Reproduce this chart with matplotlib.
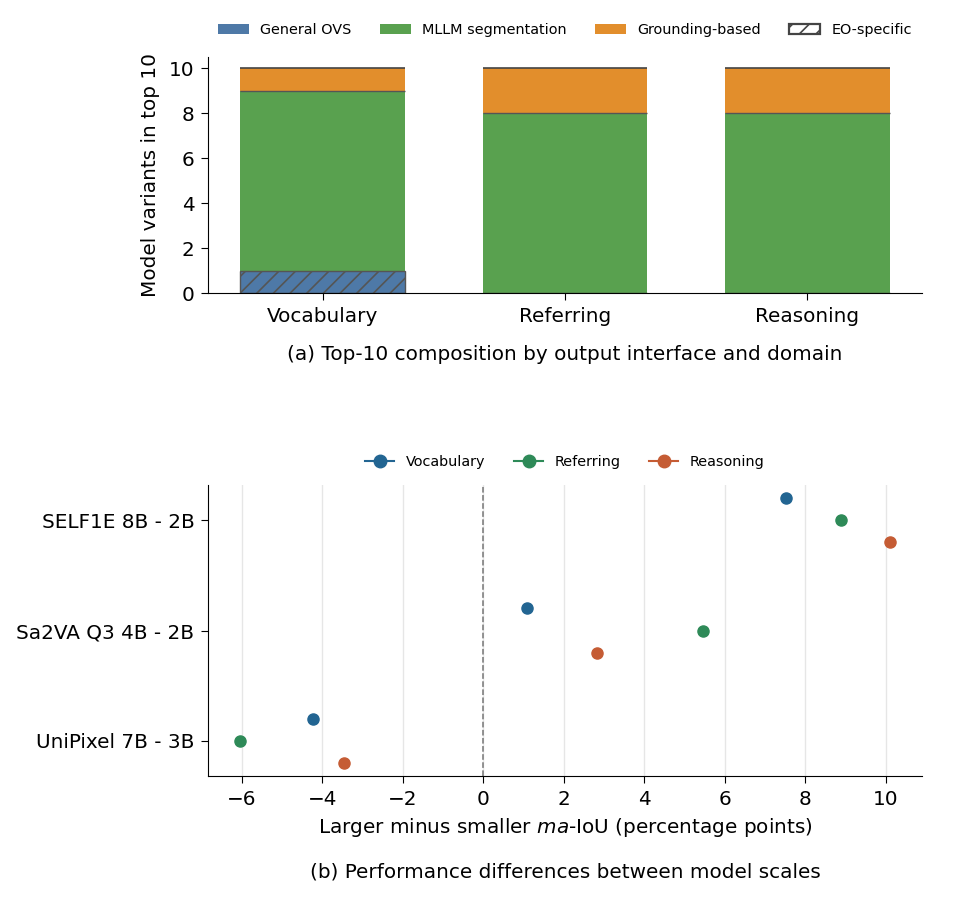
import matplotlib
matplotlib.use("Agg")
import matplotlib.pyplot as plt
import numpy as np
from matplotlib.patches import Patch
from matplotlib.lines import Line2D

# Panel (a) data
tasks = ["Vocabulary", "Referring", "Reasoning"]
general_ovs = [1, 0, 0]
mllm_seg = [8, 8, 8]
grounding = [1, 2, 2]
eo_specific_ovs = [1, 0, 0]

# Panel (b) data
pairs = ["SELF1E 8B - 2B", "Sa2VA Q3 4B - 2B", "UniPixel 7B - 3B"]
diff_vocab = [7.52, 1.09, -4.23]
diff_ref = [8.89, 5.47, -6.03]
diff_reas = [10.10, 2.84, -3.46]

c_ovs = "#4e79a7"
c_mllm = "#59a14f"
c_grd = "#e28e2c"
c_v = "#226592"
c_r = "#2e8a58"
c_s = "#c55c34"

FS = 14.4
LFS = 10.4

plt.rcParams['font.family'] = ['DejaVu Sans']
plt.rcParams['hatch.color'] = '#333333'
plt.rcParams['hatch.linewidth'] = 1.2
plt.rcParams['xtick.major.size'] = 5
plt.rcParams['ytick.major.size'] = 5
plt.rcParams['xtick.major.pad'] = 4.8
plt.rcParams['ytick.major.pad'] = 4.8

fig = plt.figure(figsize=(9.76, 9.01), dpi=100)
ax1 = fig.add_axes([0.2131, 0.6748, 0.7316, 0.2619])
ax2 = fig.add_axes([0.2131, 0.1387, 0.7316, 0.3230])

x = np.arange(len(tasks))
w = 0.68
g = np.array(general_ovs, float)
m = np.array(mllm_seg, float)
gr = np.array(grounding, float)
ax1.bar(x, g, w, color=c_ovs, edgecolor='none')
ax1.bar(x, m, w, bottom=g, color=c_mllm, edgecolor='none')
ax1.bar(x, gr, w, bottom=g + m, color=c_grd, edgecolor='none')
# EO-specific overlay (hatched), plus boundary edges
ax1.bar(x, eo_specific_ovs, w, color='none', edgecolor='#555555', hatch='//', linewidth=1.0)
ax1.bar(x, np.zeros(3), w, bottom=g + m, color='none', edgecolor='#555555', linewidth=1.0)
ax1.bar(x, np.zeros(3), w, bottom=g + m + gr, color='none', edgecolor='#444444', linewidth=1.2)

ax1.set_xticks(x)
ax1.set_xticklabels(tasks, fontsize=FS)
ax1.set_yticks(np.arange(0, 11, 2))
ax1.tick_params(axis='y', labelsize=FS)
ax1.set_ylabel("Model variants in top 10", fontsize=FS, labelpad=6)
ax1.spines['top'].set_visible(False)
ax1.spines['right'].set_visible(False)
ax1.set_ylim(0, 10.5)

handles1 = [Patch(facecolor=c_ovs, label="General OVS"),
            Patch(facecolor=c_mllm, label="MLLM segmentation"),
            Patch(facecolor=c_grd, label="Grounding-based"),
            Patch(facecolor='white', edgecolor='#444444', linewidth=1.6, hatch='//', label="EO-specific")]
ax1.legend(handles=handles1, loc='lower center', bbox_to_anchor=(0.5, 1.03), ncol=4,
           frameon=False, fontsize=LFS, handlelength=2.15, columnspacing=1.95)
fig.text(0.579, 1 - 355 / 901, "(a) Top-10 composition by output interface and domain",
         ha='center', va='center', fontsize=FS)

# Panel (b)
yb = np.array([2, 1, 0], float)
off = 0.2
ax2.grid(axis='x', color='#e6e6e6', linewidth=1.0, zorder=0)
ax2.set_axisbelow(True)
ax2.axvline(0, color='#777777', linestyle='--', linewidth=1.1, zorder=1)
ax2.plot(diff_vocab, yb + off, 'o', color=c_v, markersize=8, zorder=3)
ax2.plot(diff_ref, yb, 'o', color=c_r, markersize=8, zorder=3)
ax2.plot(diff_reas, yb - off, 'o', color=c_s, markersize=8, zorder=3)
ax2.set_yticks(yb)
ax2.set_yticklabels(pairs, fontsize=FS)
ax2.tick_params(axis='x', labelsize=FS)
ax2.set_xticks(np.arange(-6, 11, 2))
ax2.set_xlabel("Larger minus smaller $\\it{ma}$-IoU (percentage points)", fontsize=FS, labelpad=5.5)
ax2.spines['top'].set_visible(False)
ax2.spines['right'].set_visible(False)

handles2 = [Line2D([0], [0], marker='o', color=c_v, markersize=9, label="Vocabulary"),
            Line2D([0], [0], marker='o', color=c_r, markersize=9, label="Referring"),
            Line2D([0], [0], marker='o', color=c_s, markersize=9, label="Reasoning")]
ax2.legend(handles=handles2, loc='lower center', bbox_to_anchor=(0.5, 1.01), ncol=3,
           frameon=False, fontsize=LFS)
fig.text(0.579, 1 - 872 / 901, "(b) Performance differences between model scales",
         ha='center', va='center', fontsize=FS)

fig.savefig("out.png", dpi=100)
